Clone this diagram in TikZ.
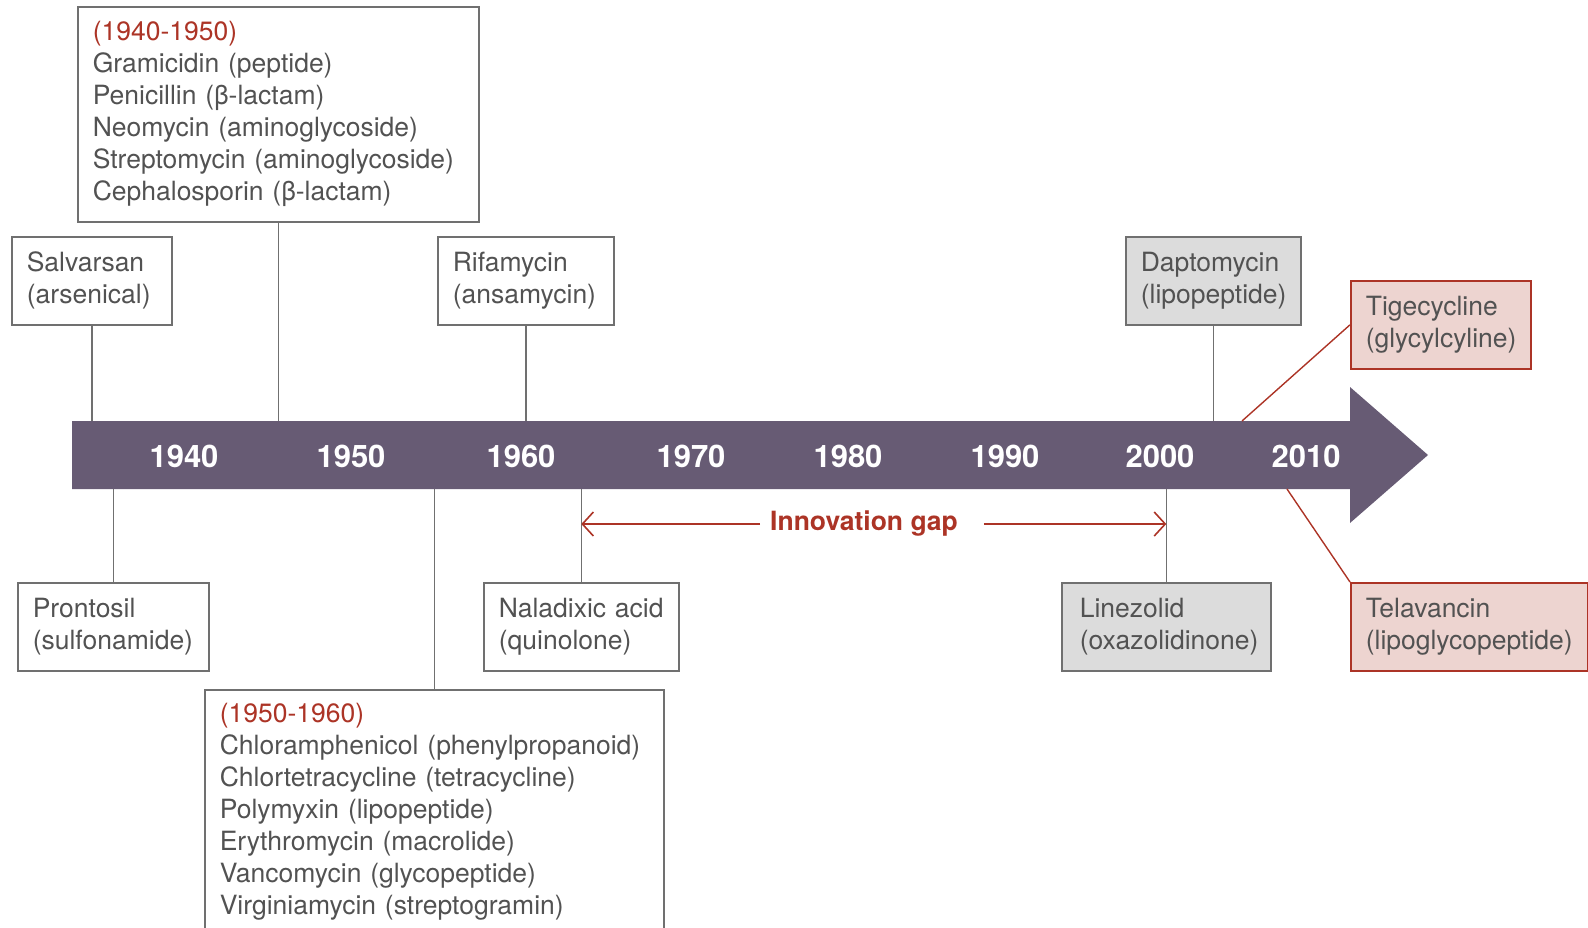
\documentclass[tikz,border=0pt]{standalone}
\usepackage{fontspec}
\setmainfont{TeX Gyre Heros}
\usepackage{tikz}
\usetikzlibrary{arrows.meta}

\definecolor{barpurple}{RGB}{103,91,116}
\definecolor{boxline}{RGB}{112,112,112}
\definecolor{txtgray}{RGB}{82,82,82}
\definecolor{gapred}{RGB}{172,52,38}
\definecolor{boxfill}{RGB}{220,220,220}
\definecolor{pinkfill}{RGB}{237,212,208}
\hyphenpenalty=10000
\exhyphenpenalty=10000
\hbadness=10000
\hfuzz=5pt

\begin{document}
\begin{tikzpicture}[x=1pt,y=-1pt,
  drug/.style={draw=boxline, line width=1.6pt, text=txtgray, align=left,
    anchor=north west, inner xsep=15pt, inner ysep=0pt,
    font=\fontsize{26.5}{32}\selectfont},
  olddrug/.style={drug, fill=boxfill},
  newdrug/.style={drug, draw=gapred, fill=pinkfill},
  link/.style={draw=boxline, line width=1.4pt},
  newlink/.style={draw=gapred, line width=1.4pt},
  year/.style={text=white, font=\fontsize{31}{36}\selectfont\bfseries},
  gaplabel/.style={text=gapred, inner xsep=10pt, font=\fontsize{26.5}{32}\selectfont\bfseries},
  gaparrow/.style={-{Straight Barb[length=11pt,width=24pt]}, draw=gapred, line width=1.6pt}]
\useasboundingbox (0,0) rectangle (1588,927);
\clip (0,0) rectangle (1588,927);

\fill[barpurple] (72,421) -- (1350,421) -- (1350,387) -- (1428,455)
  -- (1350,523) -- (1350,489) -- (72,489) -- cycle;
\coordinate (bartop) at (0,421);
\coordinate (barbot) at (0,489);
\foreach \yr/\px in {1940/184,1950/351,1960/521,1970/691,1980/848,1990/1005,2000/1160,2010/1306}
  \node[year] (y\yr) at (\px,456) {\yr};

\node[drug, text width=371pt, minimum height=215pt] (forties) at (77,6)
  {{\color{gapred}(1940-1950)}\\Gramicidin (peptide)\\Penicillin (β-lactam)\\
   Neomycin (aminoglycoside)\\Streptomycin (aminoglycoside)\\Cephalosporin (β-lactam)};
\node[drug, text width=130pt, minimum height=88pt] (salvarsan) at (11,236)
  {Salvarsan\\(arsenical)};
\node[drug, text width=146pt, minimum height=88pt] (rifamycin) at (437,236)
  {Rifamycin\\(ansamycin)};
\node[olddrug, text width=145pt, minimum height=88pt] (daptomycin) at (1125,236)
  {Daptomycin\\(lipopeptide)};
\node[newdrug, text width=150pt, minimum height=88pt] (tigecycline) at (1350,280)
  {Tigecycline\\(glycylcyline)};
\node[drug, text width=161pt, minimum height=88pt] (prontosil) at (17,582)
  {Prontosil\\(sulfonamide)};
\node[drug, text width=165pt, minimum height=88pt] (naladixic) at (483,582)
  {Naladixic acid\\(quinolone)};
\node[olddrug, text width=173pt, inner xsep=18pt, minimum height=88pt] (linezolid) at (1061,582)
  {Linezolid\\(oxazolidinone)};
\node[newdrug, text width=207pt, minimum height=88pt] (telavancin) at (1350,582)
  {Telavancin\\(lipoglycopeptide)};
\node[drug, text width=429pt, minimum height=244pt] (fifties) at (204,689)
  {{\color{gapred}(1950-1960)}\\Chloramphenicol (phenylpropanoid)\\
   Chlortetracycline (tetracycline)\\Polymyxin (lipopeptide)\\
   Erythromycin (macrolide)\\Vancomycin (glycopeptide)\\Virginiamycin (streptogramin)};

\draw[link] (salvarsan.south) -- (salvarsan.south |- bartop);
\draw[link] (forties.south) -- (forties.south |- bartop);
\draw[link] (rifamycin.south) -- (rifamycin.south |- bartop);
\draw[link] (daptomycin.south) -- (daptomycin.south |- bartop);
\draw[link] (prontosil.north) -- (prontosil.north |- barbot);
\draw[link] (fifties.north) -- (fifties.north |- barbot);
\draw[link] (naladixic.north) -- (naladixic.north |- barbot);
\draw[link] (linezolid.north) -- (linezolid.north |- barbot);
\coordinate (tigefoot) at (1242,421);
\coordinate (telafoot) at (1287,489);
\draw[newlink] (tigefoot) -- (tigecycline.west);
\draw[newlink] (telafoot) -- (telavancin.north west);

\node[gaplabel] (gap) at (864,524) {Innovation gap};
\coordinate (gapstart) at (naladixic.north |- gap);
\coordinate (gapend) at (linezolid.north |- gap);
\draw[gaparrow] (gap.west) -- (gapstart);
\draw[gaparrow] ([xshift=16pt]gap.east) -- (gapend);
\end{tikzpicture}
\end{document}
